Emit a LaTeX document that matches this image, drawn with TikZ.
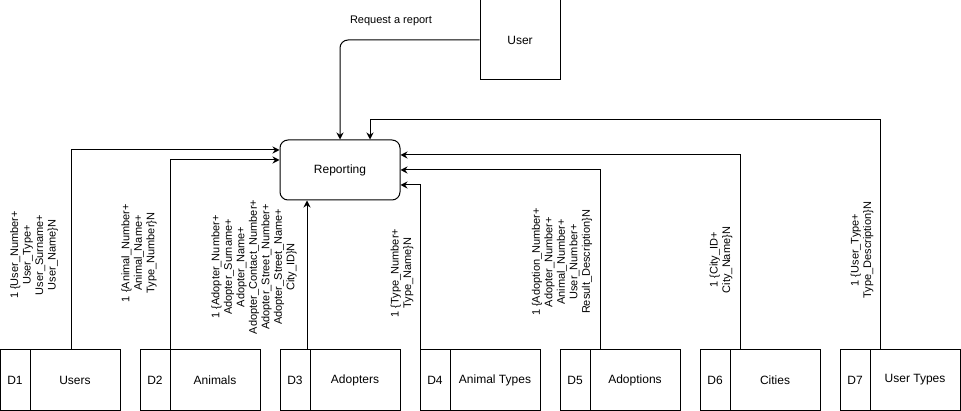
\documentclass[tikz,border=0pt]{standalone}
\usepackage{fontspec}
\setmainfont{Liberation Sans}
\usepackage{xcolor}
\usepackage{tikz}
\usetikzlibrary{positioning, arrows.meta}

\begin{document}
\begin{tikzpicture}[x=1pt, y=-1pt, line width=1pt, font=\fontsize{12}{14}\selectfont,
    flow/.style={-{Stealth[length=7pt, width=7pt]}},
    idbox/.style={draw, outer sep=0pt, inner sep=0pt, minimum width=30pt, minimum height=60pt},
    namebox/.style={draw, outer sep=0pt, inner sep=0pt, minimum width=90pt, minimum height=60pt},
    flowlabel/.style={rotate=90, align=center, font=\fontsize{11}{12.5}\selectfont}]
  \useasboundingbox (0,0) rectangle (961,411);

  \node[draw, minimum width=80pt, minimum height=80pt] (user) at (520,40) {User};
  \node[draw, rounded corners=8pt, minimum width=120pt, minimum height=60pt] (rep) at (340,170) {Reporting};
  \node[font=\fontsize{11}{13}\selectfont] (req) at (391,21) {Request a report};

  \node[idbox] (d1id) at (15,380) {D1};
  \node[namebox, right=0pt of d1id] (d1name) {Users};
  \node[idbox] (d2id) at (155,380) {D2};
  \node[namebox, right=0pt of d2id] (d2name) {Animals};
  \node[idbox] (d3id) at (295,380) {D3};
  \node[namebox, right=0pt of d3id] (d3name) {Adopters};
  \node[idbox] (d4id) at (435,380) {D4};
  \node[namebox, right=0pt of d4id] (d4name) {Animal Types};
  \node[idbox] (d5id) at (575,380) {D5};
  \node[namebox, right=0pt of d5id] (d5name) {Adoptions};
  \node[idbox] (d6id) at (715,380) {D6};
  \node[namebox, right=0pt of d6id] (d6name) {Cities};
  \node[idbox] (d7id) at (855,380) {D7};
  \node[namebox, right=0pt of d7id] (d7name) {User Types};

  \draw[flow, rounded corners=8pt] (user.west) -| (rep.north);
  \draw[flow] ([xshift=41pt]d1id.north east) |- ([yshift=20pt]rep.west);
  \draw[flow] (d2id.north east) |- ([yshift=10pt]rep.west);
  \coordinate (d3top) at ([xshift=-3pt]d3id.north east);
  \draw[flow] (d3top) -- (d3top |- rep.south);
  \draw[flow] (d4id.north west) |- ([yshift=-15pt]rep.east);
  \draw[flow] ([xshift=10pt]d5id.north east) |- (rep.east);
  \draw[flow] ([xshift=10pt]d6id.north east) |- ([yshift=15pt]rep.east);
  \draw[flow] ([xshift=10pt]d7id.north east) |- ([xshift=30pt, yshift=20pt]rep.north) -- ([xshift=30pt]rep.north);

  \node[flowlabel] (lbl1) at (34,255) {1 \{User\_Number+\\User\_Type+\\User\_Surname+\\User\_Name\}N};
  \node[flowlabel] (lbl2) at (139,253) {1 \{Animal\_Number+\\Animal\_Name+\\Type\_Number\}N};
  \node[flowlabel] (lbl3) at (254,267) {1 \{Adopter\_Number+\\Adopter\_Surname+\\Adopter\_Name+\\Adopter\_Contact\_Number+\\Adopter\_Street\_Number+\\Adopter\_Street\_Name+\\City\_ID\}N};
  \node[flowlabel] (lbl4) at (402,273) {1 \{Type\_Number+\\Type\_Name\}N};
  \node[flowlabel] (lbl5) at (562,262) {1 \{Adoption\_Number+\\Adopter\_Number+\\Animal\_Number+\\User\_Number+\\Result\_Description\}N};
  \node[flowlabel] (lbl6) at (721,260) {1 \{City\_ID+\\City\_Name\}N};
  \node[flowlabel] (lbl7) at (862,250) {1 \{User\_Type+\\Type\_Description\}N};
\end{tikzpicture}
\end{document}
